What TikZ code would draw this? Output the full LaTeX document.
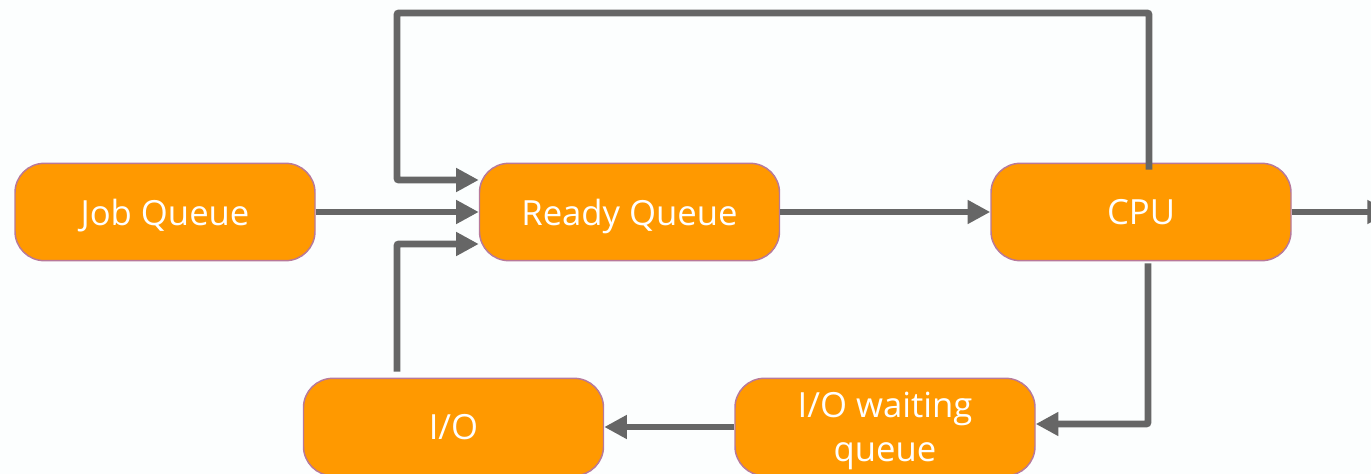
\documentclass[tikz,border=0pt]{standalone}
\usepackage{fontspec}
\setmainfont{Open Sans}
\usetikzlibrary{arrows.meta,calc}
\definecolor{boxfill}{HTML}{FF9900}
\definecolor{boxline}{HTML}{B8799A}
\definecolor{wire}{HTML}{666666}
\definecolor{paper}{HTML}{FCFEFE}
\tikzset{
  stage/.style={draw=boxline, line width=1.1pt, fill=boxfill, rounded corners=22pt,
    minimum width=225pt, minimum height=73pt, inner sep=0pt, text=white, align=center,
    text depth=0pt, font=\fontsize{26pt}{33pt}\selectfont},
  flow/.style={draw=wire, line width=5.2pt, rounded corners=1.5pt,
    -{Triangle[length=17pt,width=17pt]}},
}
\begin{document}
\begin{tikzpicture}[x=0.75pt,y=-0.75pt]
  \fill[paper] (0,0) rectangle (1371,474);
  \clip (0,0) rectangle (1371,474);
  \useasboundingbox (0,0) rectangle (1371,474);

  % stages of the scheduler
  \node[stage] (jq)  at (165,212)  {Job Queue};
  \node[stage] (rq)  at (629.5,212) {Ready Queue};
  \node[stage] (cpu) at (1141,212) {CPU};
  \node[stage] (io)  at (453.5,427) {I/O};
  \node[stage] (iow) at (885,427)  {I/O waiting\\queue};

  \coordinate (exit) at (1390,212);
  \coordinate (top)  at (397,13);

  % transitions
  \draw[flow] (jq.east) -- (rq.west);
  \draw[flow] (rq.east) -- (cpu.west);
  \draw[flow] (cpu.east) -- (exit);
  \draw[flow] ($(cpu.north)+(8,7)$) |- (top) |- ($(rq.west)+(0,-32)$);
  \draw[flow] ($(cpu.south)+(7,2)$) |- ($(iow.east)+(0,-3)$);
  \draw[flow] (iow.west) -- (io.east);
  \draw[flow] ($(io.north)+(-56.5,-6)$) |- ($(rq.west)+(0,32)$);
\end{tikzpicture}
\end{document}
